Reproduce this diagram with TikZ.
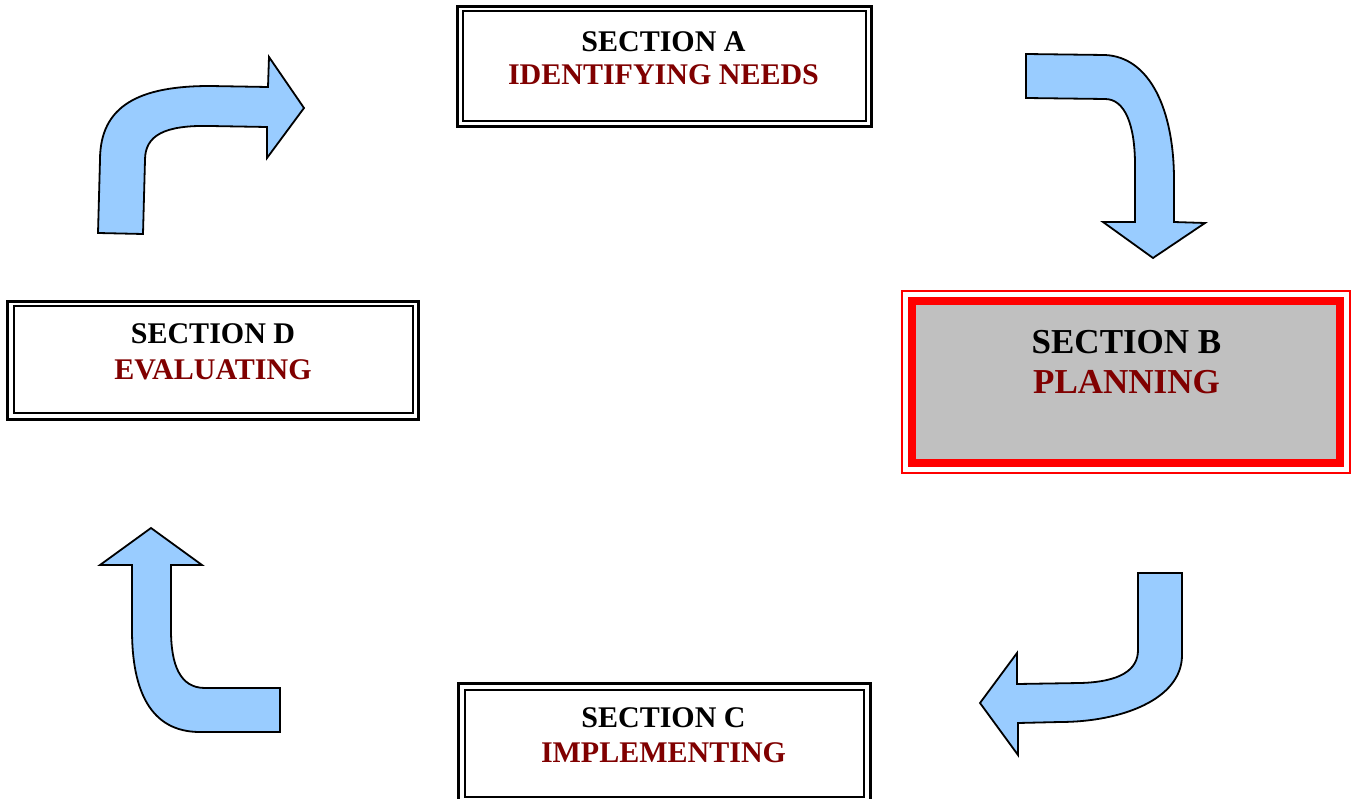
\documentclass[tikz,border=0pt]{standalone}
\usepackage{fontspec}
\setmainfont{Liberation Serif}
\definecolor{darkred}{HTML}{800000}
\definecolor{arrowblue}{HTML}{99CCFF}
\definecolor{panelgray}{HTML}{C0C0C0}
\definecolor{hotred}{HTML}{FF0000}
\begin{document}
\begin{tikzpicture}[x=1pt,y=-1pt,
  boxinner/.style={draw=black,line width=1.4pt,fill=white,inner sep=0pt},
  boxouter/.style={draw=black,line width=2.6pt},
  title/.style={font=\bfseries\fontsize{30}{34}\selectfont,text=black,anchor=base,inner sep=0pt},
  subtitle/.style={title,text=darkred},
  bigtitle/.style={title,font=\bfseries\fontsize{35}{40}\selectfont},
  bigsubtitle/.style={bigtitle,text=darkred},
  bent/.style={fill=arrowblue,draw=black,line width=1.8pt,line join=miter}
]
\clip (0,0) rectangle (1351,799);

% Section boxes with double frames
\node[boxinner,minimum width=403pt,minimum height=110pt] (A) at (664.5,66) {};
\draw[boxouter] ([shift={(-5,-4)}]A.north west) rectangle ([shift={(5,5)}]A.south east);

\node[boxinner,minimum width=399pt,minimum height=107pt] (D) at (213.5,359.5) {};
\draw[boxouter] ([shift={(-6,-4)}]D.north west) rectangle ([shift={(5,6)}]D.south east);

\node[boxinner,minimum width=399pt,minimum height=107pt] (C) at (664.5,743.5) {};
\draw[boxouter] ([shift={(-6,-6)}]C.north west) rectangle ([shift={(6,6)}]C.south east);

% Highlighted section: grey panel in a triple red frame
\node[draw=hotred,line width=6pt,fill=panelgray,inner sep=0pt,
      minimum width=430pt,minimum height=163pt] (B) at (1126,382) {};
\draw[hotred,line width=2pt] ([shift={(-6,-6)}]B.north west) rectangle ([shift={(6,6)}]B.south east);
\draw[hotred,line width=2pt] ([shift={(7,7)}]B.north west) rectangle ([shift={(-7,-7)}]B.south east);

% Labels
\node[title] (A1) at (663.5,52) {SECTION A};
\node[subtitle] (A2) at (663.5,85) {IDENTIFYING NEEDS};
\node[bigtitle] (B1) at (1126.5,353) {SECTION B};
\node[bigsubtitle] (B2) at (1126.5,393) {PLANNING};
\node[title] (C1) at (663.5,727) {SECTION C};
\node[subtitle] (C2) at (663.5,762.5) {IMPLEMENTING};
\node[title] (D1) at (213,343.5) {SECTION D};
\node[subtitle] (D2) at (213,379) {EVALUATING};

% Bent block arrows around the cycle
% D -> A
\draw[bent] (98,233) -- (100,160) .. controls (100,105) and (140,86) .. (210,86)
  -- (268,87) -- (269,57) -- (304,108) -- (267,158) -- (267,127) -- (210,126)
  .. controls (165,125) and (145,135) .. (145,160) -- (143,234) -- cycle;
% A -> B
\draw[bent] (1026,54) -- (1105,55) .. controls (1150,57) and (1174,110) .. (1174,180)
  -- (1174,222) -- (1205,223) -- (1153,258) -- (1103,222) -- (1135,222) -- (1135,165)
  .. controls (1135,125) and (1125,99) .. (1105,99) -- (1026,98) -- cycle;
% B -> C
\draw[bent] (1138,573) -- (1182,573) -- (1182,655) .. controls (1182,700) and (1120,722) .. (1060,722)
  -- (1018,723) -- (1018,755) -- (980,703) -- (1017,653) -- (1017,684) -- (1080,683)
  .. controls (1120,682) and (1138,670) .. (1138,650) -- cycle;
% C -> D
\draw[bent] (280,688) -- (280,732) -- (200,732) .. controls (150,732) and (132,690) .. (132,630)
  -- (132,565) -- (100,565) -- (151,528) -- (202,565) -- (171,565) -- (171,630)
  .. controls (171,665) and (180,688) .. (205,688) -- cycle;
\end{tikzpicture}
\end{document}
